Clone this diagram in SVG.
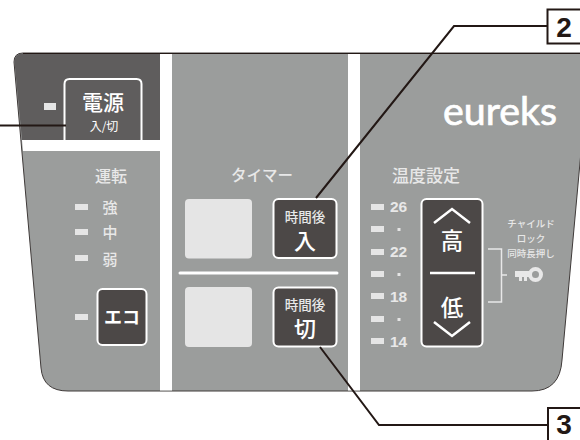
<svg xmlns="http://www.w3.org/2000/svg" width="580" height="440" viewBox="0 0 580 440">
<style>
text{font-family:"Noto Sans CJK JP","Liberation Sans",sans-serif;fill:#e8e8e8;text-anchor:middle;font-weight:500}
.btn{fill:#4c4847;stroke:#fff;stroke-width:2}
.led{fill:#e5e5e5}
.sq{fill:#e5e5e5}
.num{font-family:"Liberation Sans",sans-serif;font-weight:700;font-size:15.500px;text-anchor:start}
.ln{fill:none;stroke:#231815;stroke-width:2}
.w{fill:none;stroke:#fff;stroke-width:2.500}
.box{fill:#fff;stroke:#231815;stroke-width:2}
.lab{font-family:"Liberation Sans",sans-serif;font-weight:700;font-size:28px;fill:#231815}
.wt{fill:#fff}
</style>
<g id="panel">
<path d="M14 62Q14 53 23 53H590L562 360Q560 391 532 391H68Q43 391 41 368Z" fill="#9b9d9c" stroke="#3f3a39" stroke-width="1"/>
<path d="M14.500 62Q14.500 53.500 23 53.500H160V140H22Z" fill="#5f5d5d"/>
<path d="M23 53.500H580" stroke="#231815" stroke-width="1"/>
<path d="M22 140H160V54H172V390.500H160V151H23Z" fill="#fff"/>
<rect x="348" y="54" width="12" height="336.500" fill="#fff"/>
</g>
<g id="power">
<rect class="led" x="44" y="103" width="12" height="7"/>
<path d="M64.500 140V84Q64.500 79 69.500 79H136.500Q141.500 79 141.500 84V140" fill="#5f5d5d" stroke="#fff" stroke-width="2"/>
<text class="wt" x="103" y="110" font-size="21">電源</text>
<text class="wt" x="104" y="131" font-size="12" style="font-weight:400">入/切</text>
</g>
<g id="operation">
<text x="111" y="182" font-size="16">運転</text>
<rect class="led" x="75" y="204" width="13" height="6"/>
<text x="110" y="213" font-size="15">強</text>
<rect class="led" x="75" y="229" width="13" height="6"/>
<text x="110" y="238" font-size="15">中</text>
<rect class="led" x="75" y="255" width="13" height="6"/>
<text x="110" y="265" font-size="15">弱</text>
<rect class="led" x="75" y="314" width="13" height="6"/>
</g>
<g id="eco">
<rect class="btn" x="97.500" y="289" width="49" height="56" rx="5"/>
<text class="wt" x="122" y="324" font-size="18" style="font-weight:700">エコ</text>
</g>
<g id="timer">
<text x="262" y="181" font-size="15.500">タイマー</text>
<rect class="sq" x="185" y="199" width="67" height="59.500" rx="4"/>
<rect class="sq" x="185" y="287" width="67" height="60" rx="4"/>
<path d="M180 273H337" stroke="#fff" stroke-width="3" stroke-linecap="round"/>
</g>
<g id="timer-on">
<rect class="btn" x="273.500" y="199" width="63" height="59" rx="5"/>
<text x="305" y="222" font-size="13.500">時間後</text>
<text class="wt" x="305" y="249" font-size="22">入</text>
</g>
<g id="timer-off">
<rect class="btn" x="273.500" y="287.500" width="63" height="59" rx="5"/>
<text x="305" y="310" font-size="13.500">時間後</text>
<text class="wt" x="305" y="337" font-size="22">切</text>
</g>
<g id="temperature">
<text x="426" y="182" font-size="17">温度設定</text>
<rect class="led" x="371" y="204" width="13" height="6"/>
<rect class="led" x="371" y="226" width="13" height="6"/>
<rect class="led" x="371" y="249" width="13" height="6"/>
<rect class="led" x="371" y="271" width="13" height="6"/>
<rect class="led" x="371" y="293" width="13" height="6"/>
<rect class="led" x="371" y="316" width="13" height="6"/>
<rect class="led" x="371" y="338" width="13" height="6"/>
<text class="num" x="390" y="212">26</text>
<text class="num" x="390" y="257">22</text>
<text class="num" x="390" y="302">18</text>
<text class="num" x="390" y="347">14</text>
<rect class="led" x="397.500" y="228" width="3" height="3"/>
<rect class="led" x="397.500" y="273" width="3" height="3"/>
<rect class="led" x="397.500" y="318" width="3" height="3"/>
</g>
<g id="temp-button">
<rect class="btn" x="421.500" y="199" width="61" height="147.500" rx="5"/>
<path class="w" d="M434 223L452 209L470 223M434 322L452 336L470 322M430 273H475"/>
<text class="wt" x="452" y="249" font-size="22.500">高</text>
<text class="wt" x="452" y="316" font-size="22.500">低</text>
</g>
<g id="child-lock">
<text x="531" y="227" font-size="9.500">チャイルド</text>
<text x="531" y="242" font-size="9.500">ロック</text>
<text x="531" y="257" font-size="9.500">同時長押し</text>
<path d="M488 249H501.500V302H488M501.500 275H507" fill="none" stroke="#e8e8e8" stroke-width="1.500"/>
<path d="M515 271H530V277H527V281H524V277H522V281H519V277H515Z" fill="#e8e8e8"/>
<circle cx="535.500" cy="274.500" r="5.500" fill="none" stroke="#e8e8e8" stroke-width="4"/>
</g>
<g id="logo">
<text class="wt" x="500" y="125" font-size="38" textLength="114" lengthAdjust="spacingAndGlyphs" stroke="#fff" stroke-width="0.700" style="font-family:Lato,'Open Sans',sans-serif;font-weight:400">eureks</text>
</g>
<g id="connectors">
<path class="ln" d="M0 125.500H66"/>
<path class="ln" d="M316 198L454 26H548"/>
<path class="ln" d="M320 347L379 425H548"/>
</g>
<g id="label-2">
<rect class="box" x="547.500" y="9.500" width="40" height="34"/>
<text class="lab" x="564" y="37">2</text>
</g>
<g id="label-3">
<rect class="box" x="548" y="408" width="40" height="40"/>
<text class="lab" x="564" y="434">3</text>
</g>
</svg>
